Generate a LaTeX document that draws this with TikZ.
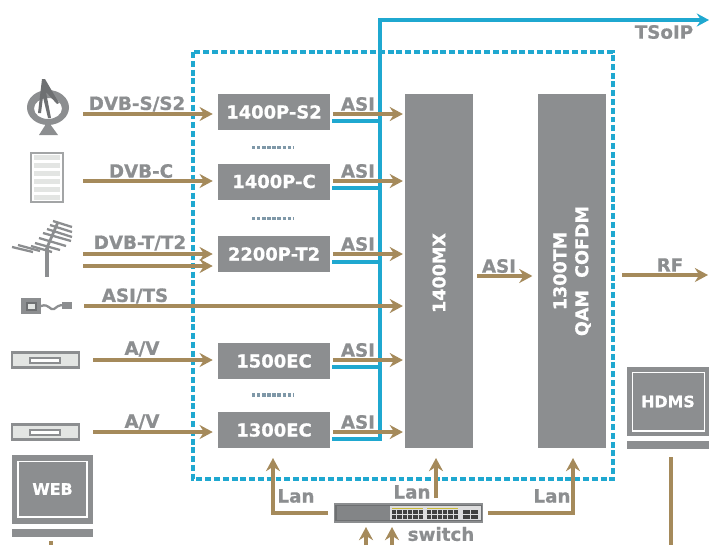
\documentclass[tikz,border=0pt]{standalone}
\usepackage{fontspec}
\setmainfont{DejaVu Sans}[BoldFont={DejaVu Sans Bold},BoldFeatures={FakeBold=0.7}]
\usetikzlibrary{arrows.meta}
\definecolor{gry}{HTML}{8C8E90}
\definecolor{darkgry}{HTML}{6E7072}
\definecolor{lightgry}{HTML}{E3E5E3}
\definecolor{tan}{HTML}{A58A5B}
\definecolor{teal}{HTML}{1FA8D0}
\definecolor{dotblue}{HTML}{7F98A8}
\tikzset{
  modbox/.style={fill=gry,text=white,font=\bfseries\fontsize{10.2}{12}\selectfont,minimum width=2.24cm,minimum height=0.72cm,inner sep=0pt},
  tallbox/.style={fill=gry,minimum width=1.36cm,minimum height=7.08cm,inner sep=0pt},
  tallt/.style={text=white,font=\bfseries\fontsize{10}{12.5}\selectfont,rotate=90,align=center,inner sep=0pt},
  lab/.style={text=gry,font=\bfseries\fontsize{10.4}{12}\selectfont,inner sep=0pt},
  tanline/.style={draw=tan,line width=2.1pt},
  tanarrow/.style={tanline,-{Stealth[length=7.5pt,width=8pt,inset=2.5pt]}},
  tealline/.style={draw=teal,line width=2.1pt},
  dots/.style={draw=dotblue,line width=1.8pt,dash pattern=on 1.9pt off 1pt},
  frame/.style={fill=gry,text=white,font=\bfseries\fontsize{9}{10}\selectfont,minimum width=1.64cm,minimum height=1.38cm,inner sep=0pt},
  whitefr/.style={draw=white,line width=1.1pt},
}
\begin{document}
\begin{tikzpicture}[x=0.02cm,y=-0.02cm]
\useasboundingbox (0,0) rectangle (710,545);
\draw[draw=teal,line width=2pt,dash pattern=on 3.4pt off 1.6pt] (193,52) rectangle (613,479);

\node[modbox] (s2) at (274,112) {1400P-S2};
\node[modbox] (c) at (274,181.5) {1400P-C};
\node[modbox] (t2) at (274,254) {2200P-T2};
\node[modbox] (ec5) at (274,361) {1500EC};
\node[modbox] (ec3) at (274,430) {1300EC};
\node[tallbox] (mx) at (439,271) {};
\node[tallbox] (tm) at (572,271) {};
\node[tallt] (mxtxt) at (439,273) {1400MX};
\node[tallt] (tmtxt) at (572,271) {1300TM\\QAM\ \ COFDM};

\draw[dots] (252,147.7) -- (294,147.7);
\draw[dots] (252,218.3) -- (294,218.3);
\draw[dots] (252,395) -- (294,395);

\coordinate (bus) at (380,20);
\coordinate (ipend) at (709,20);
\draw[tealline,-{Stealth[length=7pt,width=7.5pt,inset=2.5pt]}] (ec3.east |- 0,439) ++(2,0) -| (bus) -- (ipend);
\node[lab] (ip) at (664,32) {TSoIP};

\foreach \nm/\ya/\yb/\yl in {s2/114/121/104,c/181/188/171,t2/254/262/244,ec5/360/367/350,ec3/432/439/422}{
  \draw[tealline] (\nm.east |- 0,\yb) ++(2,0) -- (bus |- 0,\yb);
  \draw[tanarrow,shorten <=1.5pt,shorten >=1pt] (\nm.east |- 0,\ya) -- (mx.west |- 0,\ya);
  \node[lab] (asi\nm) at (358,\yl) {ASI};
}

\foreach \x/\y/\txt/\lx/\ly/\nm in {83/114/DVB-S\slash S2/137/104/s2,83/181/DVB-C/141/171/c,83/254/DVB-T\slash T2/140/243/t2,93/360/A\slash V/142/349/ec5,93/432/A\slash V/142/422/ec3}{
  \coordinate (from\nm) at (\x,\y);
  \draw[tanarrow,shorten >=2.8pt] (from\nm) -- (from\nm -| \nm.west);
  \node[lab] (l\nm) at (\lx,\ly) {\txt};
}
\coordinate (fromtb) at (83,266);
\draw[tanarrow,shorten >=2.8pt] (fromtb) -- (fromtb -| t2.west);
\coordinate (fromts) at (84,306);
\draw[tanarrow,shorten >=1pt] (fromts) -- (fromts -| mx.west);
\node[lab] (lts) at (135,296) {ASI/TS};

\coordinate (mxout) at (477,276);
\draw[tanarrow,shorten >=3pt] (mxout) -- (mxout -| tm.west);
\node[lab] (lasi) at (499,266) {ASI};
\coordinate (tmout) at (622,275);
\coordinate (rfend) at (708,275);
\draw[tanarrow] (tmout) -- (rfend);
\node[lab] (lrf) at (670,265) {RF};

% switch
\node[fill=darkgry,draw=gry,line width=0.6pt,minimum width=2.96cm,minimum height=0.36cm,inner sep=0pt] (sw) at (408.5,513) {};
\fill[gry!70!darkgry] (337,506) rectangle (390,520);
\fill[white!70!gry] (390,506) rectangle (481,520);
\foreach \gx in {392,427}{
  \draw[draw=tan!60!yellow,line width=0.5pt] (\gx,508) -- ++(31,0);
  \foreach \i in {0,...,5}\foreach \j in {0,1}
    \fill[black!75] (\gx+\i*5.3,510+\j*5.2) rectangle ++(4.3,3.6);
}
\foreach \i in {0,1}\foreach \j in {0,1}
  \fill[black!75] (463+\i*8,510+\j*5.2) rectangle ++(6.5,3.6);
\node[lab] (swl) at (441,534) {switch};

\coordinate (lanl) at (273,458);
\coordinate (lanm) at (436,458);
\coordinate (lanr) at (573,458);
\draw[tanarrow,shorten <=3.4pt] (sw.west) -| (lanl);
\draw[tanarrow] (436,498) -- (lanm);
\draw[tanarrow,shorten <=2.8pt] (sw.east) -| (lanr);
\node[lab] (lan1) at (296,496) {Lan};
\node[lab] (lan2) at (412,492) {Lan};
\node[lab] (lan3) at (552,496) {Lan};
\draw[tanarrow] (366,545) -- (366,527);
\draw[tanarrow] (392,545) -- (392,527);

% monitors
\node[frame] (hd) at (668,401.5) {HDMS};
\draw[whitefr] (632.5,372.5) rectangle (704.5,431);
\fill[gry] (627,441) rectangle (709,449);
\draw[tanline] (671,457) -- (671,545);
\node[frame] (web) at (52.5,489) {WEB};
\draw[whitefr] (18,461.5) rectangle (87,517);
\fill[gry] (12,529) rectangle (93,537);
\draw[tanline] (51,541) -- (51,545);

% dish
\fill[gry,even odd rule] (48,107.5) ellipse (21 and 17.5) (48,108.5) ellipse (14 and 10.5);
\fill[gry] (46,124) -- (50,124) -- (58,135) -- (39,135) -- cycle;
\fill[darkgry] (42,79) -- (45,79) -- (59,103) -- (57,104) -- (46,92) -- (51,118) -- (48,118) -- (43,97) -- (41,113) -- (38,113) -- cycle;

% rack
\fill[white,draw=gry!80,line width=0.9pt] (31,153) rectangle (63,202);
\foreach \y in {157,165,173,181,189,197}
  \fill[lightgry] (34,\y-2.5) rectangle (60,\y+2.5);

% antenna
\draw[gry,line width=2pt] (47,248) -- (47,277);
\draw[gry,line width=1.6pt] (46,250) -- (58,222);
\foreach \xa/\ya/\xb/\yb in {53/221/72/227,50/225/72/232,47/229/72/237,43/233/71/241,39/238/66/246,35/243/60/250,31/246/52/252,18/245/40/251,12/247/33/252}
  \draw[gry,line width=1.3pt] (\xa,\ya) -- (\xb,\yb);

% asi box
\fill[gry] (21,298) rectangle (41,314);
\fill[lightgry,draw=darkgry,line width=0.6pt] (27,303) rectangle (36,310);
\draw[gry,line width=1.3pt] (41,306) .. controls (49,303) and (50,311) .. (54,309) .. controls (57,307) and (58,305) .. (64,305);
\fill[gry] (62,302) rectangle (72,309);

% dvd players
\foreach \y in {352,424}{
  \fill[lightgry,draw=gry,line width=1.6pt] (12,\y+0.5) rectangle (79,\y+15.5);
  \fill[white,draw=gry,line width=1pt] (30,\y+6) rectangle (60,\y+11);
}
\end{tikzpicture}
\end{document}
